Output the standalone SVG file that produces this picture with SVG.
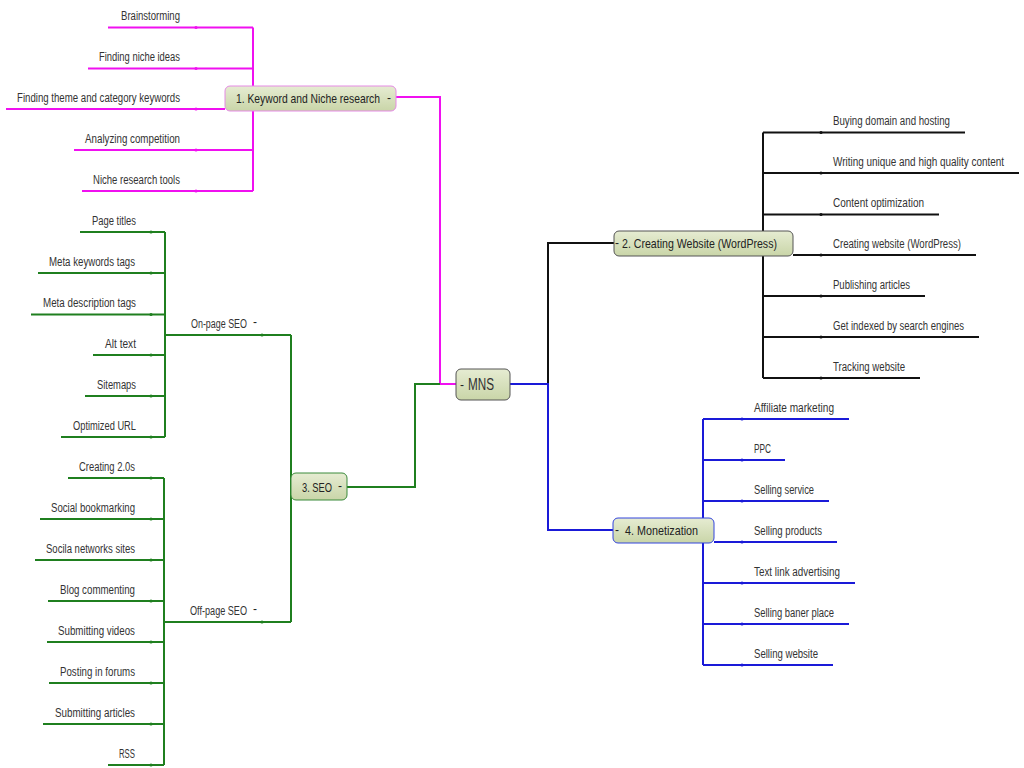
<svg xmlns="http://www.w3.org/2000/svg" width="1024" height="768" viewBox="0 0 1024 768">
<defs>
<linearGradient id="nodeFill" x1="0" y1="0" x2="0" y2="1">
<stop offset="0" stop-color="#e6ecd2"/>
<stop offset="1" stop-color="#c9d5a8"/>
</linearGradient>
<style>
text{font-family:"Liberation Sans",Arial,sans-serif;font-size:12px;fill:#333}
.r{text-anchor:end}
.nt{font-size:13px;fill:#222}
.mi{font-size:12px;fill:#222}
.mag{stroke:#f010f0;stroke-width:2;fill:none}
.blk{stroke:#111;stroke-width:2;fill:none}
.blu{stroke:#1a1ad8;stroke-width:2;fill:none}
.grn{stroke:#1f7f1f;stroke-width:2;fill:none}
.node{fill:url(#nodeFill);stroke-width:1}
.dm{fill:#f010f0}.dk{fill:#111}.db{fill:#1a1ad8}.dg{fill:#1f7f1f}
</style>
</defs>
<rect width="1024" height="768" fill="#fff"/>
<g id="connectors">
<path class="mag" d="M396 97H440V384H456"/>
<path class="mag" d="M253 27.5V191M108 27.5H253M88 68.5H253M6 109H225M74 150H253M82 191H253"/>
<path class="blk" d="M510 384H548V243H614"/>
<path class="blk" d="M763 132.5V378M763 132.5H965M763 173H1019M763 214.5H939M793 255H976M763 296H925M763 337H979M763 378H920"/>
<path class="blu" d="M510 384H548V530H613"/>
<path class="blu" d="M703 419V665M703 419H849M703 460H785M703 501H829M714 542H837M703 583H855M703 624H849M703 665H833"/>
<path class="grn" d="M347 487H415V384H440"/>
<path class="grn" d="M291 335V622M165 335H291M163 622H291"/>
<path class="grn" d="M165 232V437M80 232H165M38 273H165M31 314.5H165M93 355H165M85 396H165M61 437H165"/>
<path class="grn" d="M164 478V765M68 478H164M40 519H164M35 560H164M48 601H164M47 642H164M49 683H164M43 724H164M108 765H164"/>
<g class="dm"><circle cx="196" cy="27.5" r="1.6"/><circle cx="196" cy="68.5" r="1.6"/><circle cx="196" cy="109" r="1.6"/><circle cx="196" cy="150" r="1.6"/><circle cx="196" cy="191" r="1.6"/></g>
<g class="dk"><circle cx="821" cy="132.5" r="1.6"/><circle cx="821" cy="173" r="1.6"/><circle cx="821" cy="214.5" r="1.6"/><circle cx="821" cy="255" r="1.6"/><circle cx="821" cy="296" r="1.6"/><circle cx="821" cy="337" r="1.6"/><circle cx="821" cy="378" r="1.6"/></g>
<g class="db"><circle cx="742" cy="419" r="1.6"/><circle cx="742" cy="460" r="1.6"/><circle cx="742" cy="501" r="1.6"/><circle cx="742" cy="542" r="1.6"/><circle cx="742" cy="583" r="1.6"/><circle cx="742" cy="624" r="1.6"/><circle cx="742" cy="665" r="1.6"/></g>
<g class="dg"><circle cx="262" cy="335" r="1.6"/><circle cx="262" cy="622" r="1.6"/><circle cx="151" cy="232" r="1.6"/><circle cx="151" cy="273" r="1.6"/><circle cx="151" cy="314.5" r="1.6"/><circle cx="151" cy="355" r="1.6"/><circle cx="151" cy="396" r="1.6"/><circle cx="151" cy="437" r="1.6"/><circle cx="151" cy="478" r="1.6"/><circle cx="151" cy="519" r="1.6"/><circle cx="151" cy="560" r="1.6"/><circle cx="151" cy="601" r="1.6"/><circle cx="151" cy="642" r="1.6"/><circle cx="151" cy="683" r="1.6"/><circle cx="151" cy="724" r="1.6"/><circle cx="151" cy="765" r="1.6"/></g>
</g>
<g id="mns">
<rect class="node" x="456" y="369" width="54" height="31" rx="5" stroke="#555"/>
<text class="mi" x="460" y="389">-</text>
<text x="468" y="390" style="font-size:16px" fill="#222" textLength="26" lengthAdjust="spacingAndGlyphs">MNS</text>
</g>
<g id="topic1">
<rect class="node" x="225" y="86" width="171" height="25" rx="5" stroke="#e58ae5"/>
<text class="nt" x="236" y="103" textLength="144" lengthAdjust="spacingAndGlyphs">1. Keyword and Niche research</text>
<text class="mi" x="387" y="102">-</text>
</g>
<g id="topic1-leaves">
<text x="121" y="20" textLength="59" lengthAdjust="spacingAndGlyphs">Brainstorming</text>
<text x="99" y="61" textLength="81" lengthAdjust="spacingAndGlyphs">Finding niche ideas</text>
<text x="17" y="101.5" textLength="163" lengthAdjust="spacingAndGlyphs">Finding theme and category keywords</text>
<text x="85" y="142.5" textLength="95" lengthAdjust="spacingAndGlyphs">Analyzing competition</text>
<text x="93" y="183.5" textLength="87" lengthAdjust="spacingAndGlyphs">Niche research tools</text>
</g>
<g id="topic2">
<rect class="node" x="614" y="231" width="179" height="25" rx="5" stroke="#555"/>
<text class="mi" x="615" y="247">-</text>
<text class="nt" x="622" y="248" textLength="155" lengthAdjust="spacingAndGlyphs">2. Creating Website (WordPress)</text>
</g>
<g id="topic2-leaves">
<text x="833" y="125" textLength="117" lengthAdjust="spacingAndGlyphs">Buying domain and hosting</text>
<text x="833" y="165.5" textLength="171" lengthAdjust="spacingAndGlyphs">Writing unique and high quality content</text>
<text x="833" y="207" textLength="91" lengthAdjust="spacingAndGlyphs">Content optimization</text>
<text x="833" y="247.5" textLength="128" lengthAdjust="spacingAndGlyphs">Creating website (WordPress)</text>
<text x="833" y="288.5" textLength="77" lengthAdjust="spacingAndGlyphs">Publishing articles</text>
<text x="833" y="329.5" textLength="131" lengthAdjust="spacingAndGlyphs">Get indexed by search engines</text>
<text x="833" y="370.5" textLength="72" lengthAdjust="spacingAndGlyphs">Tracking website</text>
</g>
<g id="topic4">
<rect class="node" x="613" y="518" width="101" height="25" rx="5" stroke="#3344dd"/>
<text class="mi" x="615" y="534">-</text>
<text class="nt" x="625" y="535" textLength="73" lengthAdjust="spacingAndGlyphs">4. Monetization</text>
</g>
<g id="topic4-leaves">
<text x="754" y="411.5" textLength="80" lengthAdjust="spacingAndGlyphs">Affiliate marketing</text>
<text x="754" y="452.5" textLength="17" lengthAdjust="spacingAndGlyphs">PPC</text>
<text x="754" y="493.5" textLength="60" lengthAdjust="spacingAndGlyphs">Selling service</text>
<text x="754" y="534.5" textLength="68" lengthAdjust="spacingAndGlyphs">Selling products</text>
<text x="754" y="575.5" textLength="86" lengthAdjust="spacingAndGlyphs">Text link advertising</text>
<text x="754" y="616.5" textLength="80" lengthAdjust="spacingAndGlyphs">Selling baner place</text>
<text x="754" y="657.5" textLength="64" lengthAdjust="spacingAndGlyphs">Selling website</text>
</g>
<g id="topic3">
<rect class="node" x="291" y="473" width="56" height="27" rx="5" stroke="#3a8a3a"/>
<text class="nt" x="302" y="492" textLength="30" lengthAdjust="spacingAndGlyphs">3. SEO</text>
<text class="mi" x="338" y="490">-</text>
</g>
<g id="onpage">
<text x="191" y="327.5" textLength="56" lengthAdjust="spacingAndGlyphs">On-page SEO</text>
<text class="mi" x="253" y="326">-</text>
</g>
<g id="onpage-leaves">
<text x="92" y="224.5" textLength="44" lengthAdjust="spacingAndGlyphs">Page titles</text>
<text x="49" y="265.5" textLength="86" lengthAdjust="spacingAndGlyphs">Meta keywords tags</text>
<text x="43" y="307" textLength="93" lengthAdjust="spacingAndGlyphs">Meta description tags</text>
<text x="105" y="347.5" textLength="31" lengthAdjust="spacingAndGlyphs">Alt text</text>
<text x="97" y="388.5" textLength="39" lengthAdjust="spacingAndGlyphs">Sitemaps</text>
<text x="73" y="429.5" textLength="63" lengthAdjust="spacingAndGlyphs">Optimized URL</text>
</g>
<g id="offpage">
<text x="190" y="614.5" textLength="57" lengthAdjust="spacingAndGlyphs">Off-page SEO</text>
<text class="mi" x="253" y="613">-</text>
</g>
<g id="offpage-leaves">
<text x="79" y="470.5" textLength="56" lengthAdjust="spacingAndGlyphs">Creating 2.0s</text>
<text x="51" y="511.5" textLength="84" lengthAdjust="spacingAndGlyphs">Social bookmarking</text>
<text x="46" y="552.5" textLength="89" lengthAdjust="spacingAndGlyphs">Socila networks sites</text>
<text x="60" y="593.5" textLength="75" lengthAdjust="spacingAndGlyphs">Blog commenting</text>
<text x="58" y="634.5" textLength="77" lengthAdjust="spacingAndGlyphs">Submitting videos</text>
<text x="60" y="675.5" textLength="75" lengthAdjust="spacingAndGlyphs">Posting in forums</text>
<text x="55" y="716.5" textLength="80" lengthAdjust="spacingAndGlyphs">Submitting articles</text>
<text x="119" y="757.5" textLength="16" lengthAdjust="spacingAndGlyphs">RSS</text>
</g>
</svg>
